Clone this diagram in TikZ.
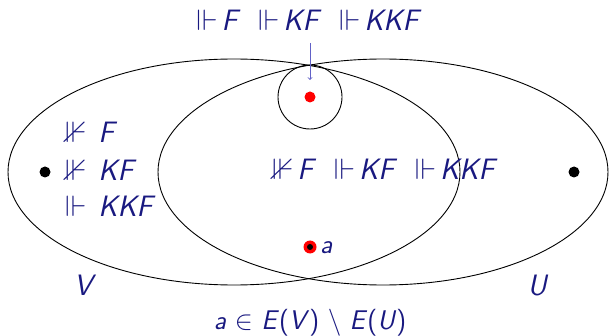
\RequirePackage{fix-cm}
\documentclass[tikz,border=0pt]{standalone}
\usepackage{amssymb}
\definecolor{navy}{rgb}{0.1,0.1,0.5}
\definecolor{arrowblue}{rgb}{0.38,0.38,0.78}
\newcommand{\vi}[1]{\textit{#1}}
\newcommand{\symgap}{\hspace{0.13em}}
\newcommand{\grpgap}{\hspace{0.6em}}
\begin{document}
\begin{tikzpicture}[x=1pt,y=-1pt,
  lbl/.style={text=navy,font=\sffamily\fontsize{29.5}{33}\selectfont,inner sep=0pt},
  small/.style={text=navy,font=\sffamily\fontsize{27}{31}\selectfont,inner sep=0pt},
  blackdot/.style={circle,fill=black,inner sep=0pt,minimum size=11pt},
  reddot/.style={circle,fill=red,inner sep=0pt,minimum size=11pt},
  setline/.style={black,line width=0.9pt}]
\useasboundingbox (0,0) rectangle (609,336);
% sets
\draw[setline] (234,172) ellipse [x radius=226, y radius=113];
\draw[setline] (383,172) ellipse [x radius=225, y radius=113];
\node[setline,draw,circle,inner sep=0pt,minimum size=64pt] (c) at (310,97) {};
% points
\node[blackdot] (pv) at (45,172) {};
\node[blackdot] (pu) at (574,172) {};
\node[reddot] (pc) at (310,97) {};
\node[circle,fill=red,inner sep=0pt,minimum size=13pt] (pa) at (310,247) {};
\node[circle,fill=black,inner sep=0pt,minimum size=6pt] (pai) at (310,247) {};
\node[small,anchor=base west] (la) at (320,254) {\vi{a}};
% texts
\node[lbl,anchor=base] (top) at (309,31) {$\Vdash$\symgap\vi{F}\grpgap$\Vdash$\symgap\vi{KF}\grpgap$\Vdash$\symgap\vi{KKF}};
\node[lbl,anchor=base west] (l1) at (65,143) {$\nVdash$\hspace{0.4em}\vi{F}};
\node[lbl,anchor=base west] (l2) at (65,181) {$\nVdash$\hspace{0.4em}\vi{KF}};
\node[lbl,anchor=base west] (l3) at (65,217) {$\Vdash$\hspace{0.4em}\vi{KKF}};
\node[lbl,anchor=base west] (mid) at (272,180) {$\nVdash$\symgap\vi{F}\grpgap$\Vdash$\symgap\vi{KF}\grpgap$\Vdash$\symgap\vi{KKF}};
\node[lbl,anchor=base] (lv) at (85,295) {\vi{V}};
\node[lbl,anchor=base] (lu) at (538,295) {\vi{U}};
\node[small,anchor=base] (cap) at (310,329) {\vi{a} $\in$ \vi{E}(\vi{V}) $\setminus$ \vi{E}(\vi{U})};
% arrow
\coordinate (as) at (310,43);
\coordinate (ae) at (310,80);
\draw[arrowblue,line width=0.9pt,->] (as) -- (ae);
\end{tikzpicture}
\end{document}
